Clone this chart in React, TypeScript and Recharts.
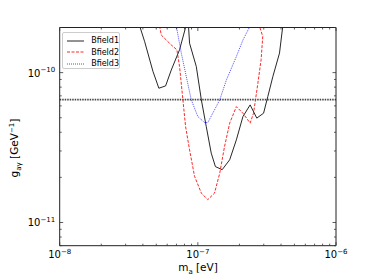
import React from "react";
import { LineChart, Line, XAxis, YAxis, ReferenceLine, Legend } from "recharts";

// Bfield1 (black solid)
const bfield1Mass = [3.79e-8, 4.12e-8, 4.73e-8, 5.22e-8, 5.84e-8, 6.42e-8, 7.37e-8, 8.15e-8, 8.35e-8, 8.57e-8, 8.71e-8, 9.74e-8, 1.06e-7, 1.15e-7, 1.25e-7, 1.34e-7, 1.5e-7, 1.7e-7, 1.9e-7, 2.12e-7, 2.39e-7, 2.67e-7, 2.99e-7, 3.21e-7, 3.49e-7, 3.9e-7, 4.12e-7];
const bfield1G = [2.05e-10, 1.61e-10, 1.02e-10, 7.87e-11, 8.15e-11, 1.04e-10, 1.42e-10, 2.0e-10, 2.4e-10, 2.0e-10, 1.57e-10, 1.1e-10, 6.58e-11, 4.37e-11, 2.9e-11, 2.36e-11, 2.25e-11, 2.62e-11, 3.56e-11, 5.09e-11, 6.09e-11, 4.97e-11, 5.36e-11, 6.92e-11, 9.4e-11, 1.35e-10, 2.05e-10];

// Bfield2 (red dashed)
const bfield2Mass = [5.28e-8, 5.44e-8, 6.42e-8, 7.05e-8, 7.37e-8, 7.71e-8, 8.15e-8, 8.71e-8, 9.47e-8, 1.06e-7, 1.18e-7, 1.32e-7, 1.44e-7, 1.56e-7, 1.7e-7, 1.9e-7, 2.12e-7, 2.39e-7, 2.53e-7, 2.72e-7, 2.87e-7, 2.95e-7, 2.79e-7];
const bfield2G = [2.05e-10, 1.78e-10, 1.53e-10, 1.42e-10, 1.1e-10, 7.29e-11, 4.37e-11, 3.05e-11, 2.03e-11, 1.57e-11, 1.42e-11, 1.57e-11, 2.13e-11, 3.21e-11, 4.6e-11, 5.93e-11, 5.36e-11, 4.6e-11, 5.36e-11, 8.5e-11, 1.22e-10, 1.74e-10, 2.05e-10];

// Bfield3 (blue dotted)
const bfield3Mass = [6.98e-8, 7.59e-8, 8.25e-8, 8.96e-8, 1.0e-7, 1.12e-7, 1.18e-7, 1.32e-7, 1.44e-7, 1.61e-7, 1.9e-7, 2.12e-7, 2.39e-7];
const bfield3G = [2.05e-10, 1.35e-10, 9.4e-11, 6.58e-11, 5.09e-11, 4.64e-11, 4.64e-11, 5.64e-11, 6.58e-11, 8.94e-11, 1.28e-10, 1.65e-10, 2.05e-10];

const thresholdG = 6.6e-11;

const xTicks = [1e-8, 2e-8, 3e-8, 4e-8, 5e-8, 6e-8, 7e-8, 8e-8, 9e-8, 1e-7, 2e-7, 3e-7, 4e-7, 5e-7, 6e-7, 7e-7, 8e-7, 9e-7, 1e-6];
const yTicks = [7e-12, 8e-12, 9e-12, 1e-11, 2e-11, 3e-11, 4e-11, 5e-11, 6e-11, 7e-11, 8e-11, 9e-11, 1e-10, 2e-10];

const series = [
  { name: "Bfield1", mass: bfield1Mass, g: bfield1G, color: "#000000", dash: undefined, opacity: 0.85 },
  { name: "Bfield2", mass: bfield2Mass, g: bfield2G, color: "#ff0000", dash: "3 1.5", opacity: 0.85 },
  { name: "Bfield3", mass: bfield3Mass, g: bfield3G, color: "#0000ff", dash: "1 1", opacity: 0.7 },
];

const FONT = "DejaVu Sans, sans-serif";

const isMajor = (v: number) => {
  const lg = Math.log10(v);
  return Math.abs(lg - Math.round(lg)) < 1e-6;
};

const AxisTick = (props: any) => {
  const { x, y, payload, side } = props;
  const v = payload.value;
  const major = isMajor(v);
  const len = major ? 3.5 : 2;
  const exp = Math.round(Math.log10(v));
  const stroke = "#333";
  if (side === "bottom") {
    return (
      <g>
        <line x1={x} y1={y} x2={x} y2={y - len} stroke={stroke} strokeWidth={0.8} />
        {major && (
          <text x={x} y={y + 12.5} textAnchor="middle" fontSize={10} fill="#000" fontFamily={FONT}>
            10<tspan dy={-4.5} fontSize={7}>{"\u2212" + Math.abs(exp)}</tspan>
          </text>
        )}
      </g>
    );
  }
  if (side === "top") {
    return <line x1={x} y1={y} x2={x} y2={y + len} stroke={stroke} strokeWidth={0.8} />;
  }
  if (side === "left") {
    return (
      <g>
        <line x1={x} y1={y} x2={x + len} y2={y} stroke={stroke} strokeWidth={0.8} />
        {major && (
          <text x={x - 4.5} y={y + 4} textAnchor="end" fontSize={10} fill="#000" fontFamily={FONT}>
            10<tspan dy={-4.5} fontSize={7}>{"\u2212" + Math.abs(exp)}</tspan>
          </text>
        )}
      </g>
    );
  }
  return <line x1={x} y1={y} x2={x - len} y2={y} stroke={stroke} strokeWidth={0.8} />;
};

const XTitle = () => (
  <text x={198} y={271} textAnchor="middle" fontSize={10.5} fill="#000" fontFamily={FONT}>
    m<tspan dy={2.5} fontSize={7}>a</tspan>
    <tspan dy={-2.5}> [eV]</tspan>
  </text>
);

const YTitle = () => (
  <text x={18} y={148} transform="rotate(-90, 18, 148)" textAnchor="middle" fontSize={10.5} fill="#000" fontFamily={FONT}>
    g<tspan dy={2.5} fontSize={7}>aγ</tspan>
    <tspan dy={-2.5}> [GeV</tspan>
    <tspan dy={-4.5} fontSize={7}>−1</tspan>
    <tspan dy={4.5}>]</tspan>
  </text>
);

const LegendBox = () => (
  <div
    style={{
      width: 58,
      height: 37,
      border: "1px solid #ccc",
      borderRadius: 2,
      background: "#fff",
      boxSizing: "border-box",
      fontFamily: FONT,
      fontSize: 8,
      paddingTop: 2,
    }}
  >
    {series.map((s) => (
      <div key={s.name} style={{ display: "flex", alignItems: "center", height: 11.5 }}>
        <svg width={27} height={6} style={{ marginLeft: 4 }}>
          <line x1={0} y1={3} x2={17} y2={3} stroke={s.color} strokeOpacity={s.opacity} strokeDasharray={s.dash} strokeWidth={1} />
        </svg>
        <span style={{ color: "#000" }}>{s.name}</span>
      </div>
    ))}
  </div>
);

export default function App() {
  return (
    <div style={{ position: "absolute", left: 0, top: 0, background: "#fff" }}>
      <LineChart width={374} height={280} margin={{ top: 0, right: 0, bottom: 0, left: 0 }}>
        <XAxis
          xAxisId="b"
          type="number"
          dataKey="x"
          scale="log"
          domain={[1e-8, 1e-6]}
          allowDataOverflow
          ticks={xTicks}
          interval={0}
          height={34.3}
          tickSize={0}
          tickMargin={0}
          tickLine={false}
          axisLine={{ stroke: "#222", strokeWidth: 1 }}
          tick={<AxisTick side="bottom" />}
          label={{ content: () => <XTitle /> }}
        />
        <XAxis
          xAxisId="t"
          orientation="top"
          type="number"
          dataKey="x"
          scale="log"
          domain={[1e-8, 1e-6]}
          allowDataOverflow
          ticks={xTicks}
          interval={0}
          height={27.5}
          tickSize={0}
          tickMargin={0}
          tickLine={false}
          axisLine={{ stroke: "#222", strokeWidth: 1 }}
          tick={<AxisTick side="top" />}
        />
        <YAxis
          yAxisId="l"
          type="number"
          dataKey="y"
          scale="log"
          domain={[7e-12, 2e-10]}
          allowDataOverflow
          ticks={yTicks}
          interval={0}
          width={59.7}
          tickSize={0}
          tickMargin={0}
          tickLine={false}
          axisLine={{ stroke: "#222", strokeWidth: 1 }}
          tick={<AxisTick side="left" />}
          label={{ content: () => <YTitle /> }}
        />
        <YAxis
          yAxisId="r"
          orientation="right"
          type="number"
          dataKey="y"
          scale="log"
          domain={[7e-12, 2e-10]}
          allowDataOverflow
          ticks={yTicks}
          interval={0}
          width={38}
          tickSize={0}
          tickMargin={0}
          tickLine={false}
          axisLine={{ stroke: "#222", strokeWidth: 1 }}
          tick={<AxisTick side="right" />}
        />
        <ReferenceLine xAxisId="b" yAxisId="l" y={thresholdG} stroke="#444" strokeWidth={1.6} strokeDasharray="1.5 1" />
        {series.map((s) => (
          <Line
            key={s.name}
            xAxisId="b"
            yAxisId="l"
            name={s.name}
            data={s.mass.map((m, i) => ({ x: m, y: s.g[i] }))}
            dataKey="y"
            type="linear"
            stroke={s.color}
            strokeOpacity={s.opacity}
            strokeWidth={1}
            strokeDasharray={s.dash}
            dot={false}
            activeDot={false}
            isAnimationActive={false}
          />
        ))}
        <Legend
          layout="vertical"
          align="center"
          verticalAlign="middle"
          wrapperStyle={{ left: 62, top: 32, width: 58, height: 37 }}
          content={() => <LegendBox />}
        />
      </LineChart>
    </div>
  );
}
